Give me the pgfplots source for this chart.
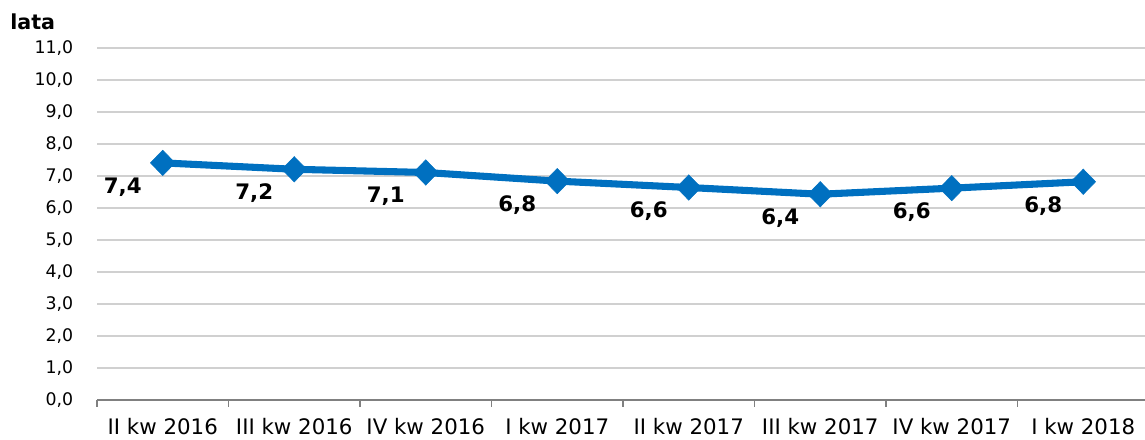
\documentclass[border=0pt]{standalone}
\usepackage{fontspec}
\setmainfont{DejaVu Sans}
\usepackage{pgfplots}
\pgfplotsset{compat=1.18}
\definecolor{lineblue}{HTML}{0070C0}
\definecolor{gridgray}{HTML}{D0D0D0}
\definecolor{axisgray}{HTML}{808080}
\begin{document}
\begin{tikzpicture}
\useasboundingbox (0pt,0pt) rectangle (858.75pt,329.25pt);
\begin{axis}[
  at={(72.75pt,29.25pt)}, anchor=south west,
  scale only axis, width=789pt, height=264pt,
  xmin=-0.5, xmax=7.5, ymin=0, ymax=11,
  clip=false,
  axis x line=bottom, axis y line=left,
  x axis line style={-, draw=axisgray, line width=0.8pt},
  y axis line style={draw=none},
  xtick={0,...,7},
  xticklabels={II kw 2016, III kw 2016, IV kw 2016, I kw 2017, II kw 2017, III kw 2017, IV kw 2017, I kw 2018},
  major x tick style={draw=none},
  minor xtick={-0.5,0.5,...,7.5},
  minor x tick style={draw=axisgray, line width=0.8pt},
  minor tick length=5pt,
  tick align=outside,
  ytick={0,1,...,11},
  ytick style={draw=none},
  ymajorgrids, grid style={draw=gridgray, line width=0.8pt},
  /pgf/number format/assume math mode=true,
  /pgf/number format/.cd, use comma, fixed, fixed zerofill, precision=1, /pgfplots/.cd,
  yticklabel style={font=\fontsize{13}{15}\selectfont, anchor=east, xshift=-10pt},
  xticklabel style={font=\fontsize{16}{18}\selectfont, yshift=-6pt},
  nodes near coords,
  nodes near coords style={font=\bfseries\fontsize{16}{18}\selectfont, anchor=center, xshift=-30pt, yshift=-18pt, text=black},
]
\addplot[color=lineblue, line width=5.3pt, mark=diamond*, mark size=9.5pt,
  mark options={draw=lineblue, fill=lineblue, line width=0.4pt, xscale=1.3}]
  coordinates {(0,7.41) (1,7.21) (2,7.11) (3,6.84) (4,6.64) (5,6.43) (6,6.62) (7,6.82)};
\end{axis}
\node[anchor=west, font=\bfseries\fontsize{15.5}{18}\selectfont, inner sep=0pt] at (7.5pt,312.75pt) {lata};
\end{tikzpicture}
\end{document}
